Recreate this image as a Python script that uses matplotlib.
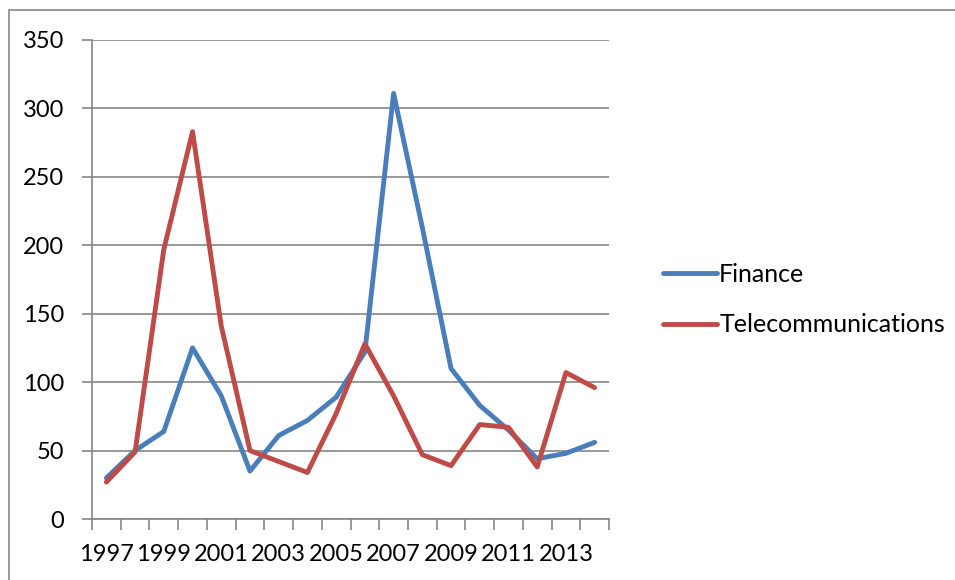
import matplotlib.pyplot as plt
from matplotlib.patches import Rectangle

years = list(range(1997, 2015))
finance = [30, 50, 64, 125, 90, 35, 61, 72, 89, 122, 311, 213, 110, 83, 65, 44, 48, 56]
telecom = [27, 49, 197, 283, 141, 50, 42, 34, 77, 128, 90, 47, 39, 69, 67, 38, 107, 96]
y_ticks = [0, 50, 100, 150, 200, 250, 300, 350]

BLUE = '#4A7EBB'
RED = '#BE4B48'
GRID = '#868686'

plt.rcParams['font.family'] = ['Lato', 'DejaVu Sans']

fig = plt.figure(figsize=(9.55, 5.8), dpi=100)
ax = fig.add_axes([92 / 955, 1 - 519 / 580, (609 - 92) / 955, (519 - 40) / 580])

# chart area frame (only left and top edges fall inside the image)
fig.patches.append(Rectangle((9 / 955, -0.2), 1.2, 1.2 - 10 / 580,
                             transform=fig.transFigure, fill=False,
                             edgecolor=GRID, linewidth=1.2))

x = list(range(len(years)))
ax.plot(x, finance, color=BLUE, linewidth=3.5, solid_joinstyle='round',
        solid_capstyle='round', label='Finance', zorder=3)
ax.plot(x, telecom, color=RED, linewidth=3.5, solid_joinstyle='round',
        solid_capstyle='round', label='Telecommunications', zorder=3)

ax.set_xlim(-0.5, len(years) - 0.5)
ax.set_ylim(0, 350)
ax.set_yticks(y_ticks)
ax.yaxis.grid(True, color=GRID, linewidth=1.2)
ax.set_axisbelow(True)

# category labels every other year, tick marks on category boundaries
ax.set_xticks(x[::2])
ax.set_xticklabels([str(y) for y in years[::2]])
ax.set_xticks([i - 0.5 for i in range(len(years) + 1)], minor=True)
ax.tick_params(axis='x', which='major', length=0, pad=18, labelsize=17)
ax.tick_params(axis='x', which='minor', length=8, width=1.2, color=GRID)
ax.tick_params(axis='y', length=7, width=1.2, color=GRID, pad=13, labelsize=17)

for side in ['top', 'right']:
    ax.spines[side].set_visible(False)
for side in ['left', 'bottom']:
    ax.spines[side].set_color(GRID)
    ax.spines[side].set_linewidth(1.2)

ax.legend(loc='center left', bbox_to_anchor=(1.085, 0.458), frameon=False,
          fontsize=18, handlelength=2.15, handletextpad=0.1, labelspacing=1.1,
          borderaxespad=0.0)

fig.savefig('out.png', dpi=100)
